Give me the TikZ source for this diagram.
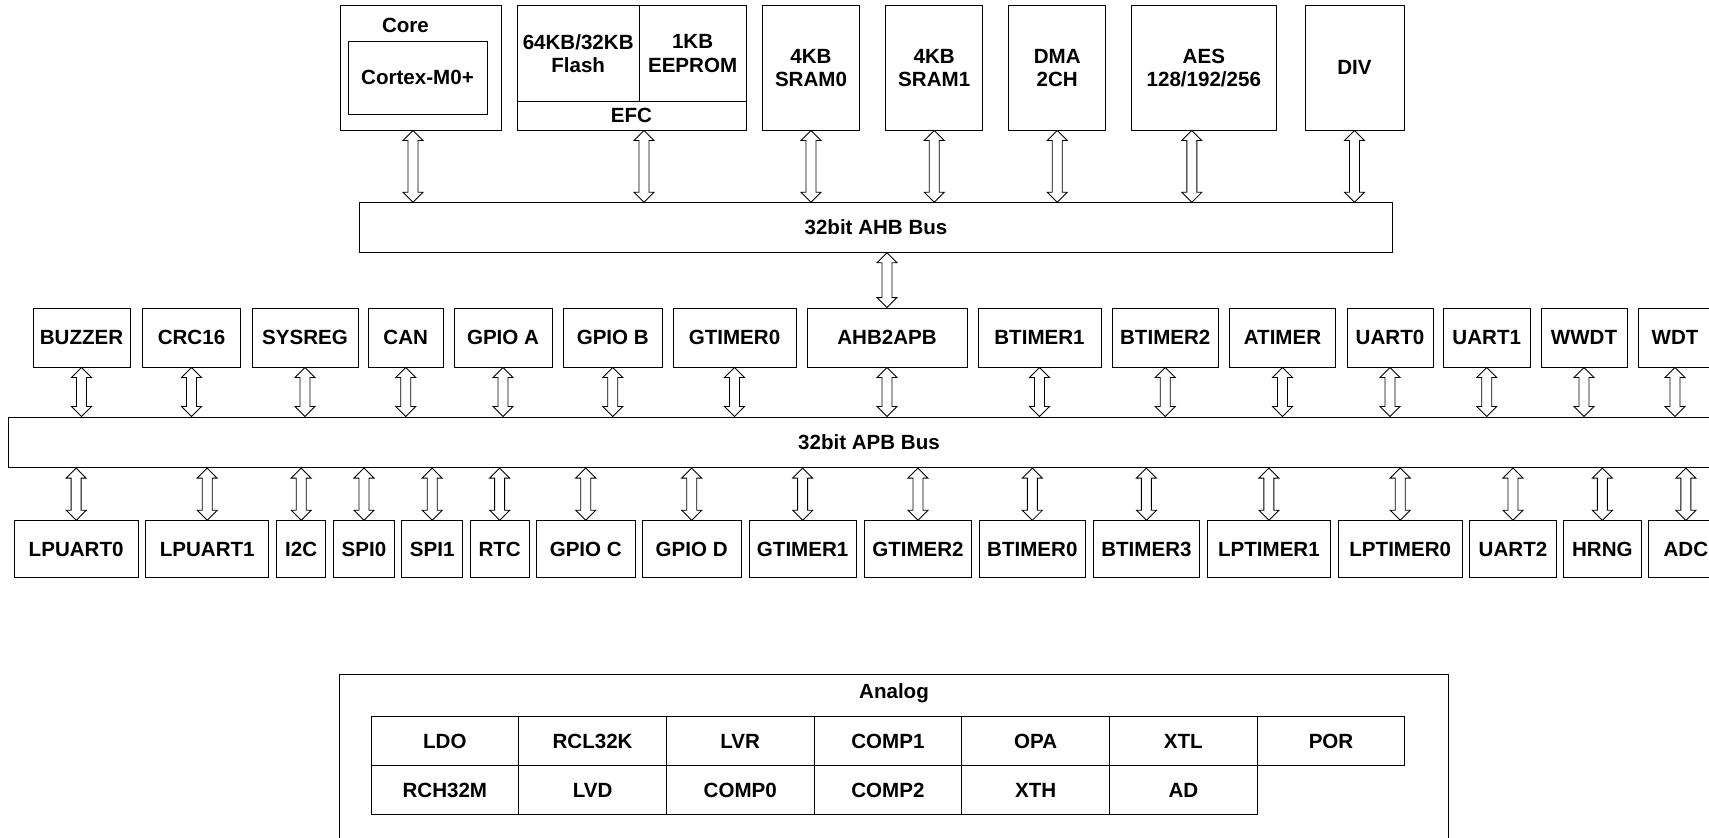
\documentclass[tikz,border=0pt]{standalone}
\usepackage{fontspec}
\setmainfont{Liberation Sans}
\usetikzlibrary{calc}
\tikzset{
  blk/.style={draw, line width=0.5pt, inner sep=0pt, align=center,
    font=\bfseries\fontsize{11.7}{13.3}\selectfont},
  txt/.style={inner sep=0pt, align=center, font=\bfseries\fontsize{11.7}{13.3}\selectfont},
  cell/.style={blk, minimum width=147.7*0.2mm, minimum height=49*0.2mm},
  % hollow double-headed bus arrow, x taken from the start point
  dbl/.style={draw, fill=white, line width=0.5pt, to path={
    let \p1=(\tikztostart), \p2=(\tikztotarget), \n1={sign(\y1-\y2)} in
    (\x1,\y1) -- (\x1+2mm,\y1-\n1*2mm) -- (\x1+1mm,\y1-\n1*2mm)
    -- (\x1+1mm,\y2+\n1*2mm) -- (\x1+2mm,\y2+\n1*2mm) -- (\x1,\y2)
    -- (\x1-2mm,\y2+\n1*2mm) -- (\x1-1mm,\y2+\n1*2mm)
    -- (\x1-1mm,\y1-\n1*2mm) -- (\x1-2mm,\y1-\n1*2mm) -- cycle}}
}

\begin{document}
\begin{tikzpicture}[x=0.2mm,y=-0.2mm]
  \clip (0,0) rectangle (1709,838);
  % AHB masters and memories
  \node[blk, minimum width=161*0.2mm, minimum height=124.3*0.2mm] (core) at (420.5,67.9) {};
  \node[txt] (corelbl) at (405.5,25) {Core};
  \node[blk, minimum width=139*0.2mm, minimum height=73*0.2mm] (cortex) at (417.5,77.5) {Cortex-M0+};
  \node[blk, minimum width=122.3*0.2mm, minimum height=96*0.2mm] (flash) at (578.2,53.7) {64KB/32KB\\Flash};
  \node[blk, minimum width=106.7*0.2mm, minimum height=96*0.2mm] (eeprom) at (692.6,53.7) {1KB\\EEPROM};
  \node[blk, minimum width=229*0.2mm, minimum height=28.3*0.2mm] (efc) at (631.5,115.9) {EFC};
  \foreach \nm/\xa/\xb/\txt in {sram0/762.7/859.3/{4KB\\SRAM0}, sram1/885.7/982.7/{4KB\\SRAM1},
      dma/1008.7/1105.7/{DMA\\2CH}, aes/1131/1276.7/{AES\\128/192/256}, div/1305/1404/DIV}
    \node[blk, minimum width={(\xb-\xa)*0.2mm}, minimum height=124.3*0.2mm] (\nm) at ({(\xa+\xb)/2},67.9) {\txt};
  % buses
  \node[blk, minimum width=1033.4*0.2mm, minimum height=49.6*0.2mm] (ahb) at (876,227.5) {32bit AHB Bus};
  \node[blk, minimum width=1722*0.2mm, minimum height=50.7*0.2mm] (apb) at (869,442.3) {32bit APB Bus};
  % APB peripherals, upper row
  \foreach \nm/\xa/\xb/\txt in {buzzer/33/130/BUZZER, crc/142.5/240.5/CRC16, sysreg/252/358/SYSREG,
      can/368.5/443/CAN, gpioa/454/552/GPIO A, gpiob/563.5/662/GPIO B, gtimer0/673/796/GTIMER0,
      ahb2apb/807/967/AHB2APB, btimer1/978/1101/BTIMER1, btimer2/1112/1218.5/BTIMER2,
      atimer/1229.5/1335.5/ATIMER, uart0/1347/1433/UART0, uart1/1443.5/1530/UART1,
      wwdt/1541/1627/WWDT, wdt/1638/1712/WDT}
    \node[blk, minimum width={(\xb-\xa)*0.2mm}, minimum height=59*0.2mm] (\nm) at ({(\xa+\xb)/2},337.5) {\txt};
  % APB peripherals, lower row
  \foreach \nm/\xa/\xb/\txt in {lpuart0/14.3/138/LPUART0, lpuart1/145.7/268.7/LPUART1, iic/276.7/325.7/I2C,
      spi0/333.7/394.3/SPI0, spi1/401.7/462.7/SPI1, rtc/470.3/529/RTC, gpioc/536.5/635/GPIO C,
      gpiod/642.4/741/GPIO D, gtimer1/749/856.3/GTIMER1, gtimer2/864.4/971.5/GTIMER2,
      btimer0/979.5/1085.2/BTIMER0, btimer3/1093.2/1199.6/BTIMER3, lptimer1/1207.4/1330.4/LPTIMER1,
      lptimer0/1338.2/1462.3/LPTIMER0, uart2/1469.7/1556.3/UART2, hrng/1563.7/1641/HRNG,
      adc/1648.7/1723/ADC}
    \node[blk, minimum width={(\xb-\xa)*0.2mm}, minimum height=56.8*0.2mm] (\nm) at ({(\xa+\xb)/2},549.1) {\txt};
  % analog block
  \node[blk, minimum width=1109.3*0.2mm, minimum height=205.7*0.2mm] (analog) at (894,777.2) {};
  \node[txt] (analoglbl) at (894,693) {Analog};
  \foreach \txt [count=\i] in {LDO,RCL32K,LVR,COMP1,OPA,XTL,POR}
    \node[cell] (anaA\i) at ({371+147.7*(\i-0.5)},741.2) {\txt};
  \foreach \txt [count=\i] in {RCH32M,LVD,COMP0,COMP2,XTH,AD}
    \node[cell] (anaB\i) at ({371+147.7*(\i-0.5)},790) {\txt};
  % bus arrows
  \draw[dbl] ([xshift=-1.5mm]core.south) to (ahb.north);
  \draw[dbl] ([xshift=2.5mm]efc.south) to (ahb.north);
  \foreach \nm in {sram0,sram1,dma,div}
    \draw[dbl] (\nm.south) to (ahb.north);
  \draw[dbl] ([xshift=-2.4mm]aes.south) to (ahb.north);
  \draw[dbl] (ahb2apb.north) to (ahb.south);
  \foreach \nm in {buzzer,crc,sysreg,can,gpioa,gpiob,gtimer0,ahb2apb,btimer1,btimer2,atimer,uart0,uart1,wwdt,wdt}
    \draw[dbl] (\nm.south) to (apb.north);
  \foreach \nm in {lpuart0,lpuart1,iic,spi0,spi1,rtc,gpioc,gpiod,gtimer1,gtimer2,btimer0,btimer3,lptimer1,lptimer0,uart2,hrng,adc}
    \draw[dbl] (\nm.north) to (apb.south);
\end{tikzpicture}
\end{document}
